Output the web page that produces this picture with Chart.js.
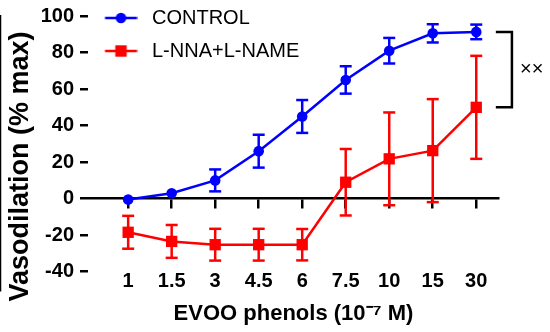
<!DOCTYPE html>
<html>
<head>
<meta charset="utf-8">
<script src="https://cdn.jsdelivr.net/npm/chart.js@4/dist/chart.umd.min.js"></script>
<style>
  html, body { margin: 0; padding: 0; background: #fff; }
</style>
</head>
<body>
<canvas id="vaso-chart" width="550" height="332"></canvas>
<script>
// ── Data ─────────────────────────────────────────────────────────────────────
const doseLabels   = ["1", "1.5", "3", "4.5", "6", "7.5", "10", "15", "30"];
const controlMean  = [-0.5, 3, 10, 26, 45, 65, 81, 90.5, 91.3];
const controlErr   = [0, 0, 6, 9, 9, 7.5, 7, 5, 4];
const lnnaMean     = [-18.4, -23.4, -25.2, -25.2, -25.2, 9, 21.8, 26.3, 50];
const lnnaErr      = [9, 9, 8.7, 8.7, 8.6, 18.2, 25.4, 28.2, 28.2];
const seriesNames  = ["CONTROL", "L-NNA+L-NAME"];
const significance = "××";
const bracketX     = [9.45, 9.82];   // bracket joining the two 30 µM points

const BLUE = "#0000ff";
const RED  = "#ff0000";
const FONT = "'Liberation Sans', Arial, Helvetica, sans-serif";

Chart.defaults.font.family = FONT;
Chart.defaults.color = "#000";

// ── Helpers ───────────────────────────────────────────────────────────────────
const toPoints = arr => arr.map((y, i) => ({ x: i + 1, y }));

function errorBarSets(mean, err, color) {
  return mean.map((m, i) => ({
    data: err[i] > 0 ? [{ x: i + 1, y: m - err[i] }, { x: i + 1, y: m + err[i] }] : [],
    borderColor: color,
    borderWidth: 2.5,
    pointStyle: "line",
    pointRadius: 6,
    pointBorderWidth: 2.5,
    pointBorderColor: color,
    order: 2,
  }));
}

// legend sample: short line with the marker on it
function legendIcon(color, style) {
  const c = document.createElement("canvas");
  c.width = 36; c.height = 20;
  const g = c.getContext("2d");
  g.strokeStyle = color; g.fillStyle = color; g.lineWidth = 2.5;
  g.beginPath(); g.moveTo(3.5, 10); g.lineTo(35.5, 10); g.stroke();
  if (style === "circle") {
    g.beginPath(); g.arc(19.5, 10, 5.3, 0, Math.PI * 2); g.fill();
  } else {
    g.fillRect(13.8, 4.3, 11.4, 11.4);
  }
  return c;
}
const legendIcons = [legendIcon(BLUE, "circle"), legendIcon(RED, "rect")];

// keep the layout from growing around the tick labels
function noPad(s) { s.paddingTop = s.paddingBottom = s.paddingLeft = s.paddingRight = 0; }

const boldTicks = { family: FONT, size: 20, weight: "bold" };

// ── Chart ─────────────────────────────────────────────────────────────────────
new Chart(document.getElementById("vaso-chart"), {
  type: "line",
  data: {
    datasets: [
      {
        label: seriesNames[0],
        data: toPoints(controlMean),
        borderColor: BLUE,
        backgroundColor: BLUE,
        borderWidth: 2.5,
        pointStyle: "circle",
        pointRadius: 5.3,
        pointBorderWidth: 0,
        pointBackgroundColor: BLUE,
        order: 0,
      },
      {
        label: seriesNames[1],
        data: toPoints(lnnaMean),
        borderColor: RED,
        backgroundColor: RED,
        borderWidth: 2.5,
        pointStyle: "rect",
        pointRadius: 8,
        pointBorderWidth: 0,
        pointBackgroundColor: RED,
        order: 1,
      },
      ...errorBarSets(controlMean, controlErr, BLUE),
      ...errorBarSets(lnnaMean, lnnaErr, RED),
      {
        data: [
          { x: bracketX[0], y: controlMean[8] },
          { x: bracketX[1], y: controlMean[8] },
          { x: bracketX[1], y: lnnaMean[8] },
          { x: bracketX[0], y: lnnaMean[8] },
        ],
        borderColor: "#000",
        borderWidth: 2.5,
        pointRadius: 0,
        clip: false,
        order: 3,
      },
    ],
  },
  options: {
    responsive: false,
    devicePixelRatio: 1,
    animation: false,
    events: [],
    layout: { padding: { top: 16, right: 0, bottom: 0, left: 0 } },
    plugins: {
      tooltip: { enabled: false },
      legend: {
        position: "chartArea",
        align: "start",
        labels: {
          usePointStyle: true,
          pointStyleWidth: 45,
          padding: 8,
          color: "#000",
          font: { family: FONT, size: 20, lineHeight: 1.25 },
          generateLabels: chart => chart.data.datasets.slice(0, 2).map((ds, i) => ({
            text: [ds.label],
            pointStyle: legendIcons[i],
            datasetIndex: i,
            fontColor: "#000",
            lineWidth: 0,
            hidden: false,
          })),
        },
      },
    },
    scales: {
      // bottom axis only carries the title
      x: {
        type: "linear",
        position: "bottom",
        min: 0.1,
        max: 9.5,
        afterFit: s => { s.height = 42; noPad(s); },
        grid: { display: false, drawTicks: false },
        border: { display: false },
        ticks: { display: false, stepSize: 1, includeBounds: false },
        title: {
          display: true,
          text: "EVOO phenols (10\u207B\u2077 M)",
          color: "#000",
          font: { family: FONT, size: 22, weight: "bold" },
          padding: { top: 0, bottom: 5 },
        },
      },
      // axis line through y = 0 with tick marks; labels pushed down to the bottom
      xZero: {
        axis: "x",
        type: "linear",
        position: { y: 0 },
        min: 0.1,
        max: 9.5,
        afterFit: s => { s.height = 0; noPad(s); },
        grid: { drawOnChartArea: false, drawTicks: true, tickLength: 9, color: "#000", lineWidth: 2.5 },
        border: { color: "#000", width: 2.5 },
        ticks: {
          stepSize: 1,
          includeBounds: false,
          autoSkip: false,
          maxRotation: 0,
          padding: 61.5,
          color: "#000",
          font: boldTicks,
          callback: v => doseLabels[v - 1] ?? "",
        },
      },
      y: {
        position: "left",
        min: -50,
        max: 100,
        afterFit: s => { s.width = 89; noPad(s); },
        grid: {
          drawOnChartArea: false,
          drawTicks: true,
          tickLength: 9,
          color: "#000",
          lineWidth: 2.5,
          tickColor: "#000",
          tickWidth: 2.5,
          z: 1,
        },
        border: { color: "#000", width: 2.5 },
        ticks: { stepSize: 20, includeBounds: false, padding: 6, color: "#000", font: boldTicks },
        title: {
          display: true,
          // trailing em space nudges the centred title a little lower, as in the figure
          text: "Vasodilation (% max)\u2003",
          color: "#000",
          font: { family: FONT, size: 27, weight: "bold" },
          padding: { top: 4, bottom: 0 },
        },
      },
      // significance mark to the right of the bracket
      ySig: {
        axis: "y",
        position: "right",
        min: -50,
        max: 100,
        afterFit: s => { s.width = 52; noPad(s); },
        afterBuildTicks: s => { s.ticks = [{ value: (controlMean[8] + lnnaMean[8]) / 2 }]; },
        grid: { display: false, drawTicks: true, tickLength: 22 },
        border: { display: false },
        ticks: { padding: 0, color: "#000", font: { family: FONT, size: 20 }, callback: () => significance },
      },
    },
  },
});
</script>
</body>
</html>
